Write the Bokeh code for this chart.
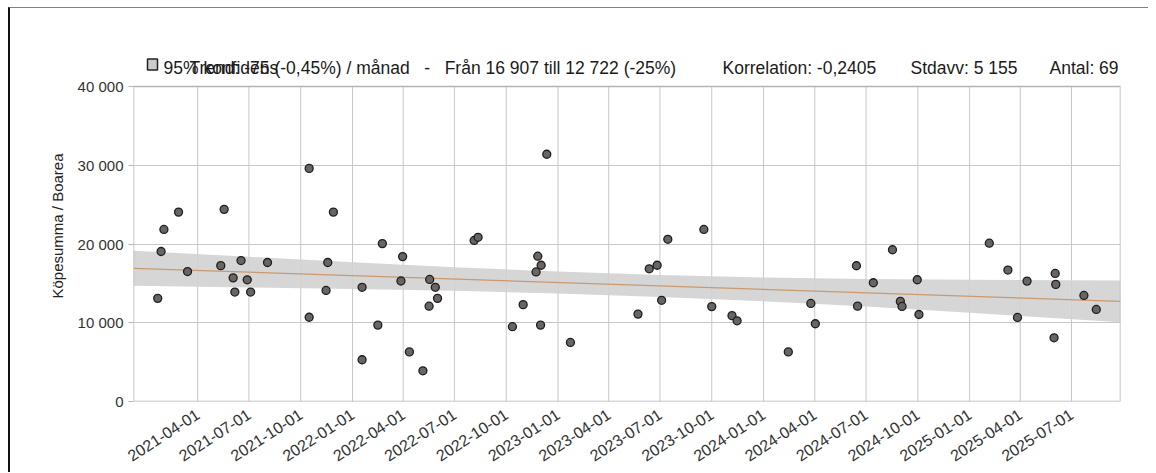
import pandas as pd
from bokeh.plotting import figure
from bokeh.models import Range1d, FixedTicker, DatetimeTickFormatter, CustomJSTickFormatter, Label
from bokeh.embed import file_html
from bokeh.resources import INLINE
from math import pi

# ---------------- data ----------------
dates = [
    "2021-10-16", "2021-02-26", "2021-05-18", "2021-01-31", "2021-11-28", "2022-02-23",
    "2022-03-31", "2021-01-26", "2021-06-17", "2021-08-03", "2021-11-18", "2021-05-12",
    "2021-03-14", "2021-06-03", "2021-06-28", "2022-03-28", "2022-05-18", "2022-05-28",
    "2022-06-01", "2022-05-17", "2021-06-06", "2021-07-04", "2021-11-15", "2022-01-18",
    "2021-01-20", "2021-10-16", "2022-02-15", "2022-04-12", "2022-01-18", "2022-05-06",
    "2022-12-12", "2022-08-05", "2022-08-12", "2023-09-17", "2023-07-15", "2022-11-26",
    "2022-12-02", "2022-11-23", "2023-06-26", "2023-06-12", "2023-07-04", "2022-10-31",
    "2023-05-23", "2023-10-01", "2023-11-06", "2023-11-15", "2022-10-12", "2022-12-01",
    "2023-01-23", "2024-02-14",
    "2025-02-05", "2024-08-17", "2024-06-14", "2025-03-10", "2025-06-02", "2024-07-14",
    "2024-09-30", "2025-04-13", "2025-06-03", "2025-07-23", "2025-08-14", "2024-03-25",
    "2024-06-16", "2024-08-31", "2024-09-03", "2024-10-03", "2025-03-27", "2024-04-02",
    "2025-05-31",
]
values = [
    29600, 24050, 24400, 21850, 24050, 20050,
    18400, 19050, 17900, 17650, 17650, 17250,
    16500, 15700, 15450, 15300, 15500, 14500,
    13100, 12100, 13900, 13900, 14100, 14500,
    13100, 10700, 9700, 6300, 5300, 3900,
    31400, 20450, 20850, 21850, 20600, 18450,
    17300, 16450, 17300, 16850, 12850, 12300,
    11100, 12050, 10900, 10250, 9500, 9700,
    7500, 6300,
    20100, 19270, 17240, 16690, 16260, 15080,
    15460, 15290, 14870, 13470, 11690, 12450,
    12110, 12710, 12070, 11050, 10670, 9870,
    8090,
]

x_start = "2020-12-08"
x_end = "2025-09-26"
trend_start = 16907
trend_end = 12722

band_dates = [x_start, "2021-07-01", "2022-01-01", "2022-07-01", "2023-01-01",
              "2023-07-01", "2024-01-01", "2024-07-01", "2025-01-01", x_end]
band_upper = [19150, 18370, 17680, 17050, 16500, 16070, 15740, 15550, 15460, 15370]
band_lower = [14700, 14470, 14280, 14050, 13700, 13270, 12740, 12050, 11260, 10070]

x_tick_labels = ["2021-04-01", "2021-07-01", "2021-10-01", "2022-01-01", "2022-04-01",
                 "2022-07-01", "2022-10-01", "2023-01-01", "2023-04-01", "2023-07-01",
                 "2023-10-01", "2024-01-01", "2024-04-01", "2024-07-01", "2024-10-01",
                 "2025-01-01", "2025-04-01", "2025-07-01"]
y_ticks = [0, 10000, 20000, 30000, 40000]
y_max = 40000

SP = "\u00a0"
header_conf = "95% konfidens"
header_trend = "Trend: -75 (-0,45%) / månad" + SP * 3 + "-" + SP * 3 + "Från 16 907 till 12 722 (-25%)"
header_corr = "Korrelation: -0,2405"
header_std = "Stdavv: 5 155"
header_n = "Antal: 69"

# ---------------- layout constants ----------------
FONT = "Liberation Sans"
PAGE_TOP = 8             # page y where the figure canvas starts (7px margin + 1px border)
FRAME_TOP_PAGE = 50      # page y of (extended) frame top
AXIS_TOP_PAGE = 86       # page y of the 40 000 line
BOTTOM_PAGE = 401        # page y of 0
FIG_H = 465
y_top = y_max * (BOTTOM_PAGE - FRAME_TOP_PAGE) / (BOTTOM_PAGE - AXIS_TOP_PAGE)

xs = pd.to_datetime(dates)
x0 = pd.Timestamp(x_start)
x1 = pd.Timestamp(x_end)
tick_dt = pd.to_datetime(x_tick_labels)

p = figure(width=1140, height=FIG_H, x_axis_type="datetime",
           output_backend="svg", toolbar_location=None,
           x_range=Range1d(x0, x1), y_range=Range1d(0, y_top),
           min_border_left=123, min_border_right=30,
           min_border_top=FRAME_TOP_PAGE - PAGE_TOP,
           min_border_bottom=FIG_H - (BOTTOM_PAGE - PAGE_TOP))
p.styles = {"border-left": "2px solid #111111", "border-top": "1px solid #808080",
            "margin-left": "8px", "margin-top": "7px"}
p.background_fill_color = "white"
p.border_fill_color = "white"
p.outline_line_color = None

# grid (vertical grid drawn only within the data area)
p.xgrid.grid_line_color = None
p.ygrid.grid_line_color = "#c8c8c8"
p.segment(x0=tick_dt, y0=[0] * len(tick_dt), x1=tick_dt, y1=[y_max] * len(tick_dt),
          line_color="#c8c8c8", line_width=1)

p.varea(x=pd.to_datetime(band_dates), y1=band_lower, y2=band_upper,
        fill_color="#d2d2d2", fill_alpha=0.9)
p.line(x=[x0, x1], y=[trend_start, trend_end], line_color="#c99a6e", line_width=1.3)

# plot-area frame
p.quad(left=[x0], right=[x1], bottom=[0], top=[y_max], fill_color=None,
       line_color="#b4b4b4", line_width=1.5)

p.scatter(x=xs, y=values, size=8, fill_color="#6a6462", line_color="#1e1e1e", line_width=1.3)

tick_ms = [t.value / 1e6 for t in tick_dt]
p.xaxis.ticker = FixedTicker(ticks=tick_ms)
fmt = "%Y-%m-%d"
p.xaxis.formatter = DatetimeTickFormatter(milliseconds=fmt, seconds=fmt, minsec=fmt, minutes=fmt,
                                          hourmin=fmt, hours=fmt, days=fmt, months=fmt, years=fmt)
p.xaxis.major_label_orientation = 33 * pi / 180
p.xaxis.major_label_standoff = 11
p.xaxis.major_label_text_font_size = "16px"
p.xaxis.axis_line_color = None
p.xaxis.major_tick_out = 0
p.xaxis.major_tick_in = 0
p.xaxis.minor_tick_out = 0
p.xaxis.minor_tick_in = 0

p.yaxis.ticker = FixedTicker(ticks=y_ticks)
p.yaxis.formatter = CustomJSTickFormatter(code=r"return tick.toFixed(0).replace(/\B(?=(\d{3})+(?!\d))/g, ' ');")
p.yaxis.axis_line_color = None
p.yaxis.major_tick_out = 5
p.yaxis.major_tick_in = 0
p.yaxis.minor_tick_out = 0
p.yaxis.minor_tick_in = 0
p.yaxis.major_label_text_font_size = "15px"
p.yaxis.axis_label = "Köpesumma / Boarea"
p.yaxis.axis_label_text_font = FONT
p.yaxis.axis_label_text_font_size = "15px"
p.yaxis.axis_label_text_font_style = "normal"
p.yaxis.axis_label_text_color = "#222222"
p.yaxis.axis_label_standoff = 9

for ax in (p.xaxis, p.yaxis):
    ax.major_tick_line_color = "#b4b4b4"
    ax.major_label_text_font = FONT
    ax.major_label_text_color = "#333333"


def px_to_x(px):
    # page pixel -> datetime ms, frame spans page x 133 .. 1120
    frac = (px - 133) / (1120 - 133)
    return (x0.value + frac * (x1.value - x0.value)) / 1e6


def py_to_y(py):
    return y_top * (BOTTOM_PAGE - py) / (BOTTOM_PAGE - FRAME_TOP_PAGE)


base_y = py_to_y(67)
box = Label(x=px_to_x(147), y=py_to_y(64), text="\u2003", text_font=FONT, text_font_size="10px",
            background_fill_color="#cccccc", border_line_color="#222222", border_line_width=1.5,
            text_baseline="alphabetic")
p.add_layout(box)
for txt, px in [(header_conf, 163), (header_trend, 189), (header_corr, 722),
                (header_std, 910), (header_n, 1049)]:
    p.add_layout(Label(x=px_to_x(px), y=base_y, text=txt, text_font=FONT, text_font_size="17.5px",
                       text_color="#1a1a1a", text_baseline="alphabetic"))

open("out.html", "w").write(file_html(p, INLINE))
